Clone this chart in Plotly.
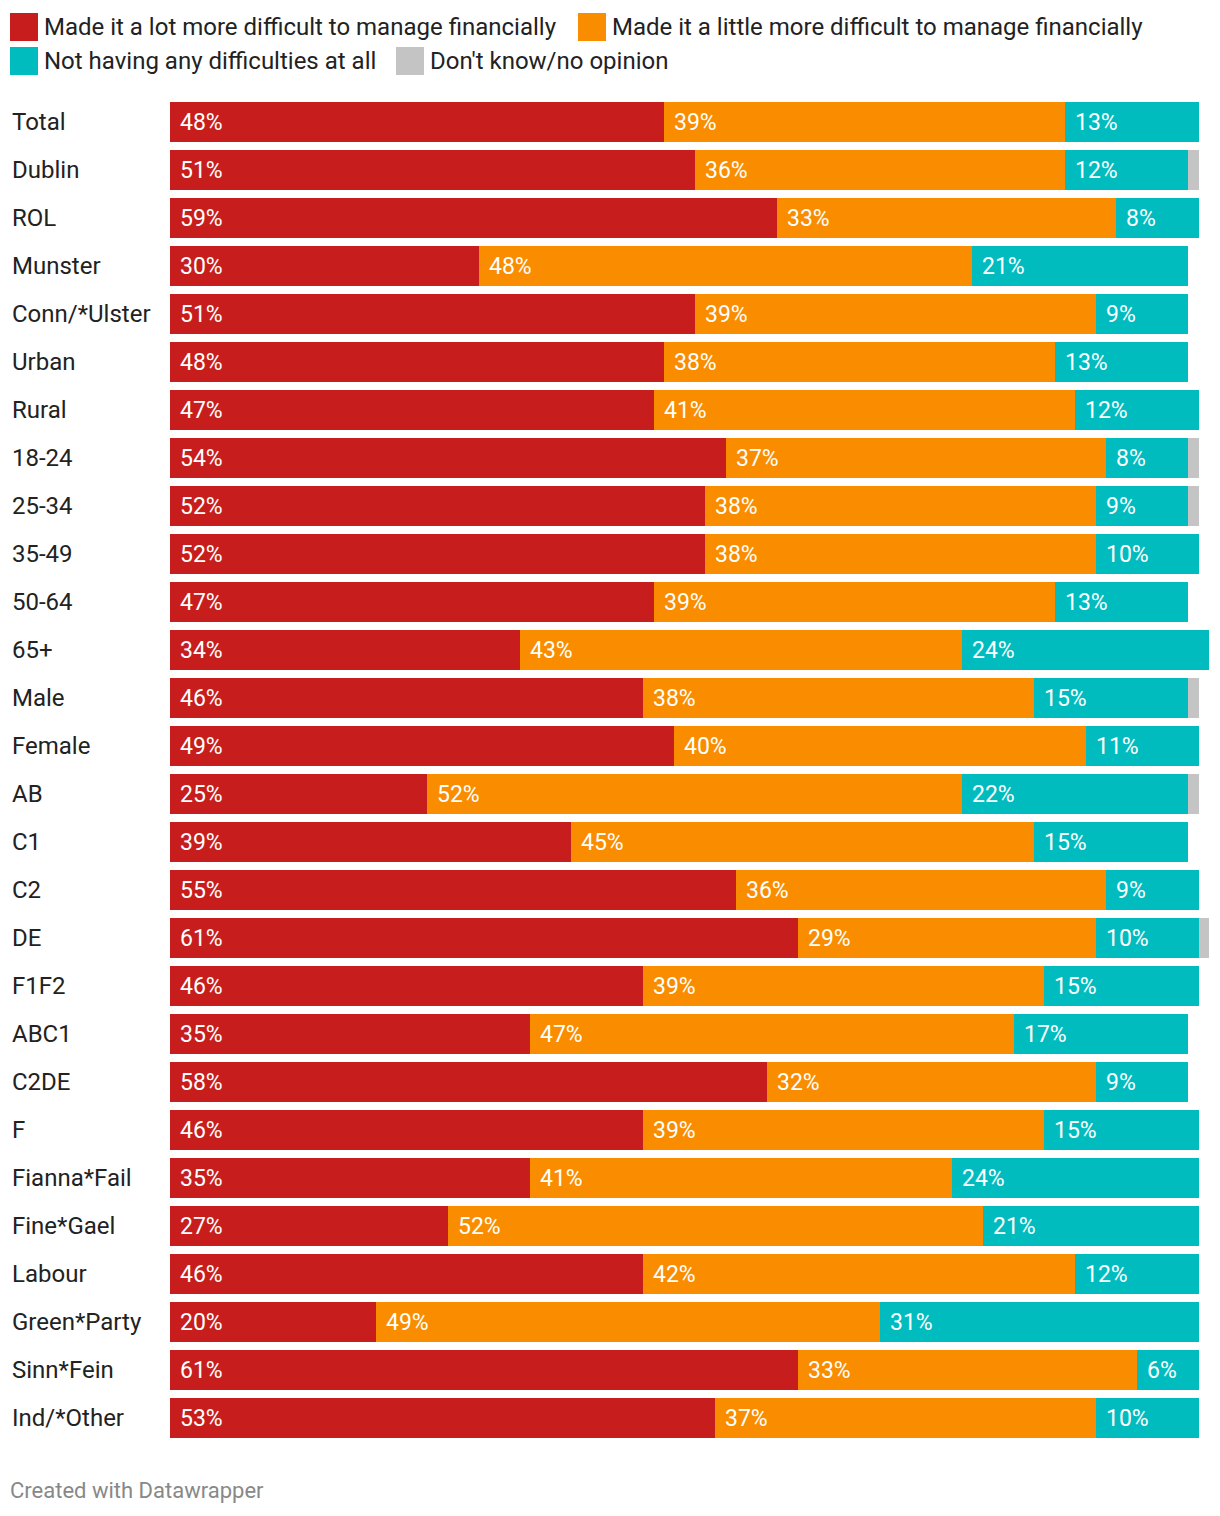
import plotly.graph_objects as go

categories = ["Total", "Dublin", "ROL", "Munster", "Conn/*Ulster", "Urban", "Rural",
              "18-24", "25-34", "35-49", "50-64", "65+", "Male", "Female", "AB", "C1",
              "C2", "DE", "F1F2", "ABC1", "C2DE", "F", "Fianna*Fail", "Fine*Gael",
              "Labour", "Green*Party", "Sinn*Fein", "Ind/*Other"]

lot_more = [48, 51, 59, 30, 51, 48, 47, 54, 52, 52, 47, 34, 46, 49, 25, 39, 55, 61, 46, 35, 58, 46, 35, 27, 46, 20, 61, 53]
little_more = [39, 36, 33, 48, 39, 38, 41, 37, 38, 38, 39, 43, 38, 40, 52, 45, 36, 29, 39, 47, 32, 39, 41, 52, 42, 49, 33, 37]
no_difficulty = [13, 12, 8, 21, 9, 13, 12, 8, 9, 10, 13, 24, 15, 11, 22, 15, 9, 10, 15, 17, 9, 15, 24, 21, 12, 31, 6, 10]
dont_know = [0, 1, 0, 0, 0, 0, 0, 1, 1, 0, 0, 0, 1, 0, 1, 0, 0, 1, 0, 0, 0, 0, 0, 0, 0, 0, 0, 0]

series_names = ["Made it a lot more difficult to manage financially",
                "Made it a little more difficult to manage financially",
                "Not having any difficulties at all",
                "Don't know/no opinion"]
series_values = [lot_more, little_more, no_difficulty, dont_know]
series_colors = ["#c71e1d", "#fa8c00", "#00bcbf", "#c4c4c4"]
show_labels = [True, True, True, False]

W, H = 1220, 1516
L, R, T, B = 170, 11, 98, 74
PW, PH = W - L - R, H - T - B
FONT = "Roboto"
FS = 24


def px2x(px):
    return (px - L) / PW


def py2y(py):
    return (H - B - py) / PH


fig = go.Figure()
for name, vals, col in zip(series_names, series_values, series_colors):
    fig.add_trace(go.Bar(y=categories, x=vals, orientation="h", name=name,
                         marker=dict(color=col, line=dict(width=0)),
                         showlegend=False, hoverinfo="x+y"))

annotations = []
# value labels
for i, cat in enumerate(categories):
    start = 0
    for vals, show in zip(series_values, show_labels):
        v = vals[i]
        if show and v > 0:
            annotations.append(dict(x=start, y=cat, xref="x", yref="y", text=f"{v}%",
                                    showarrow=False, xanchor="left", yanchor="middle",
                                    xshift=8, font=dict(family=FONT, size=FS - 1, color="white")))
        start += v
    # category labels
    annotations.append(dict(x=0, y=cat, xref="paper", yref="y", text=cat, showarrow=False,
                            xanchor="left", yanchor="middle", xshift=-(L - 10),
                            font=dict(family=FONT, size=FS, color="#222222")))

# custom legend
legend_pos = [(10, 27), (578, 27), (10, 61), (396, 61)]
shapes = []
for (lx, ly), name, col in zip(legend_pos, series_names, series_colors):
    shapes.append(dict(type="rect", xref="paper", yref="paper",
                       x0=px2x(lx), x1=px2x(lx + 28), y0=py2y(ly - 14), y1=py2y(ly + 14),
                       fillcolor=col, line=dict(width=0)))
    annotations.append(dict(x=px2x(lx + 32), y=py2y(ly), xref="paper", yref="paper",
                            text=name, showarrow=False, xanchor="left", yanchor="middle",
                            font=dict(family=FONT, size=FS, color="#222222")))

annotations.append(dict(x=px2x(8), y=py2y(1490), xref="paper", yref="paper",
                        text="Created with Datawrapper", showarrow=False,
                        xanchor="left", yanchor="middle",
                        font=dict(family=FONT, size=22, color="#888888")))

fig.update_layout(
    width=W, height=H,
    margin=dict(l=L, r=R, t=T, b=B, pad=0),
    barmode="stack", bargap=8 / 48,
    plot_bgcolor="white", paper_bgcolor="white",
    xaxis=dict(range=[0, 101], visible=False, fixedrange=True),
    yaxis=dict(categoryorder="array", categoryarray=categories,
               range=[len(categories) - 0.5, -0.5], visible=False, fixedrange=True),
    annotations=annotations, shapes=shapes,
    font=dict(family=FONT),
)

fig.write_html("out.html", config={"displayModeBar": False})
